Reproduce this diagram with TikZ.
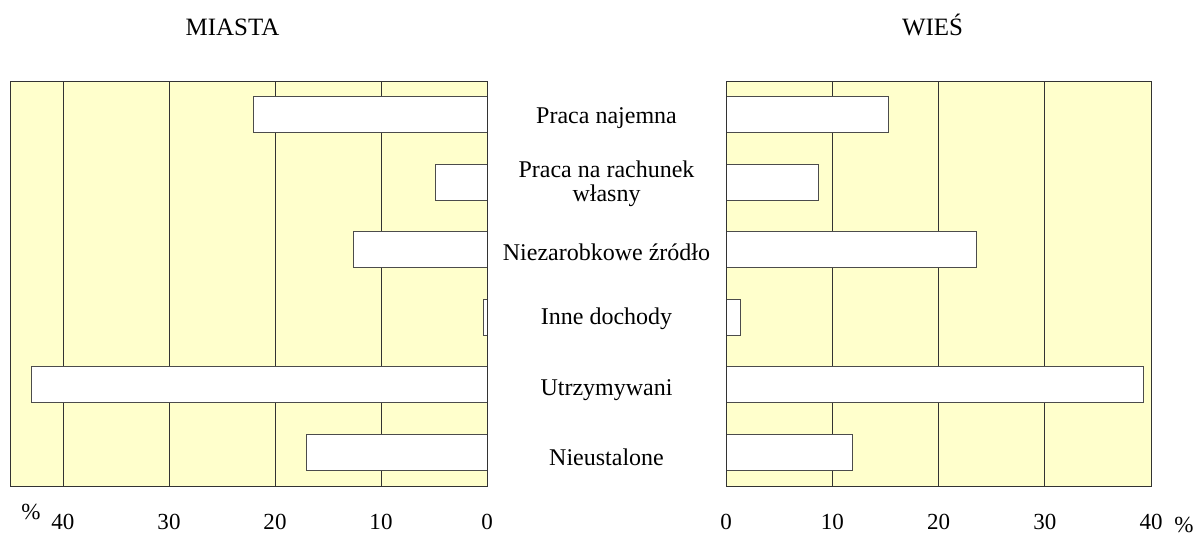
\documentclass[tikz,border=0pt]{standalone}
\usepackage{fontspec}
\setmainfont{Liberation Serif}
\definecolor{tlo}{HTML}{FFFFCC}

\begin{document}
\begin{tikzpicture}[x=0.02cm,y=-0.02cm,
  frame/.style={draw=black!80,line width=0.55pt},
  grid/.style={draw=black!80,line width=0.45pt},
  bar/.style={draw=black!70,fill=white,line width=0.55pt},
  cat/.style={anchor=base,align=center,font=\fontsize{13.66}{13.5}\selectfont},
  tick/.style={anchor=base,inner sep=1pt,font=\fontsize{13.1}{15}\selectfont},
  title/.style={anchor=base,font=\fontsize{14.2}{17}\selectfont}]
\useasboundingbox (0,0) rectangle (1193,532);
% tlo paneli
\fill[tlo] (10,81) rectangle (487,486);
\fill[tlo] (726,81) rectangle (1151,486);
\foreach \v in {10,20,30,40} {
  \draw[grid] ({487-10.6*\v},81) -- ({487-10.6*\v},486);
  \draw[grid] ({726+10.625*\v},81) -- ({726+10.625*\v},486);
}
% slupki: miasta / wies
\foreach \m/\w [count=\i] in {22/15.3,4.9/8.7,12.6/23.6,0.35/1.35,43/39.3,17/11.9} {
  \draw[bar] ({487-10.6*\m},{81+67.5*(\i-1)+15.5}) rectangle (487,{81+67.5*(\i-1)+51.5});
  \draw[bar] (726,{81+67.5*(\i-1)+15.5}) rectangle ({726+10.625*\w},{81+67.5*(\i-1)+51.5});
}
\draw[frame] (10,81) rectangle (487,486);
\draw[frame] (726,81) rectangle (1151,486);
% osie
\foreach \v in {0,10,20,30,40} {
  \node[tick] (m\v) at ({487-10.6*\v},529) {\v};
  \node[tick] (w\v) at ({726+10.625*\v},529) {\v};
}
\node[tick] (mp) at (31,519) {\%};
\node[tick,anchor=base west,inner sep=0] (wp) at (1174,532) {\%};
% kategorie
\node[cat] (k1) at (606.5,123.3) {Praca najemna};
\node[cat,anchor=center] (k2) at (606.5,183.6) {Praca na rachunek\\własny};
\node[cat] (k3) at (606.5,260) {Niezarobkowe źródło};
\node[cat] (k4) at (606.5,324.3) {Inne dochody};
\node[cat] (k5) at (606.5,395.7) {Utrzymywani};
\node[cat] (k6) at (606.5,465) {Nieustalone};
\node[title] (miasta) at (232.5,35) {MIASTA};
\node[title] (wies) at (932.5,35) {WIEŚ};
\end{tikzpicture}
\end{document}
